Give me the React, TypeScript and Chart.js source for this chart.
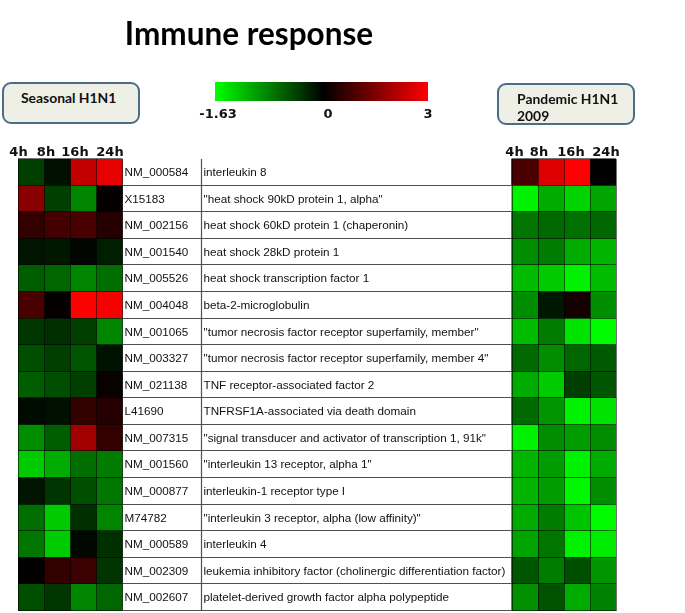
import React, { useEffect, useRef } from "react";
import { Chart, registerables } from "chart.js";

Chart.register(...registerables);

// ---------- DATA ----------
const timePoints = ["4h", "8h", "16h", "24h"];

const geneIds = [
  "NM_000584", "X15183", "NM_002156", "NM_001540", "NM_005526", "NM_004048",
  "NM_001065", "NM_003327", "NM_021138", "L41690", "NM_007315", "NM_001560",
  "NM_000877", "M74782", "NM_000589", "NM_002309", "NM_002607",
];

const geneNames = [
  "interleukin 8",
  "\"heat shock 90kD protein 1, alpha\"",
  "heat shock 60kD protein 1 (chaperonin)",
  "heat shock 28kD protein 1",
  "heat shock transcription factor 1",
  "beta-2-microglobulin",
  "\"tumor necrosis factor receptor superfamily, member\"",
  "\"tumor necrosis factor receptor superfamily, member 4\"",
  "TNF receptor-associated factor 2",
  "TNFRSF1A-associated via death domain",
  "\"signal transducer and activator of transcription 1, 91k\"",
  "\"interleukin 13 receptor, alpha 1\"",
  "interleukin-1 receptor type I",
  "\"interleukin 3 receptor, alpha (low affinity)\"",
  "interleukin 4",
  "leukemia inhibitory factor (cholinergic differentiation factor)",
  "platelet-derived growth factor alpha polypeptide",
];

// Seasonal H1N1 log ratios (per time point, one value per gene)
const seasonal4h = [-0.4, 1.6, 0.6, -0.13, -0.6, 0.85, -0.35, -0.5, -0.6, -0.07, -0.9, -1.3, -0.13, -0.7, -0.75, 0.03, -0.5];
const seasonal8h = [-0.1, -0.4, 0.8, -0.15, -0.65, 0.05, -0.3, -0.4, -0.5, -0.1, -0.6, -1.1, -0.33, -1.3, -1.3, 0.6, -0.35];
const seasonal16h = [2.3, -0.85, 0.85, -0.03, -0.85, 3.0, -0.4, -0.55, -0.4, 0.6, 1.9, -0.7, -0.5, -0.3, -0.05, 0.7, -0.85];
const seasonal24h = [2.7, 0.05, 0.45, -0.2, -0.7, 2.9, -0.85, -0.12, 0.1, 0.45, 0.6, -0.8, -0.75, -0.85, -0.3, -0.33, -0.65];

// Pandemic H1N1 2009 log ratios
const pandemic4h = [0.85, -1.55, -0.75, -0.9, -1.2, -0.9, -1.2, -0.68, -1.1, -0.68, -1.55, -1.15, -1.15, -1.1, -1.05, -0.55, -0.92];
const pandemic8h = [2.6, -1.1, -0.68, -0.8, -1.3, -0.15, -0.8, -0.9, -1.3, -0.95, -0.9, -1.0, -1.0, -0.8, -0.75, -0.8, -0.52];
const pandemic16h = [3.0, -1.35, -0.72, -1.1, -1.55, 0.25, -1.45, -0.65, -0.4, -1.55, -1.0, -1.55, -1.58, -1.25, -1.55, -0.5, -1.1];
const pandemic24h = [0.0, -1.05, -0.65, -1.15, -1.2, -0.9, -1.6, -0.58, -0.55, -1.45, -0.9, -1.1, -0.9, -1.6, -1.5, -0.95, -0.83];

const scaleMin = -1.63;
const scaleMax = 3;
const scaleTicks = ["-1.63", "0", "3"];

// ---------- LAYOUT (in x-axis units: one unit = one heatmap column) ----------
const ID_COL_START = 4;
const DESC_COL_START = 7;
const RIGHT_START = 18.9;
const X_MAX = 22.9;

function colorFor(v: number): string {
  if (v >= 0) {
    const r = Math.round(255 * Math.min(v / scaleMax, 1));
    return `rgb(${r},0,0)`;
  }
  const g = Math.round(255 * Math.min(v / scaleMin, 1));
  return `rgb(0,${g},0)`;
}

const seasonalSeries = [seasonal4h, seasonal8h, seasonal16h, seasonal24h];
const pandemicSeries = [pandemic4h, pandemic8h, pandemic16h, pandemic24h];

const tablePlugin = {
  id: "geneTable",
  afterDatasetsDraw(chart: any) {
    const { ctx, chartArea, scales } = chart;
    const x = scales.x;
    const y = scales.y;
    const n = geneIds.length;
    const band = (chartArea.bottom - chartArea.top) / n;
    const top = chartArea.top;
    const bottom = chartArea.bottom;
    ctx.save();

    // heatmap cell grid lines
    ctx.strokeStyle = "rgba(0,0,0,0.55)";
    ctx.lineWidth = 1;
    const blocks = [0, RIGHT_START];
    blocks.forEach((b) => {
      for (let c = 0; c <= 4; c++) {
        const px = Math.round(x.getPixelForValue(b + c)) + 0.5;
        ctx.beginPath();
        ctx.moveTo(px, top);
        ctx.lineTo(px, bottom);
        ctx.stroke();
      }
      const l = x.getPixelForValue(b);
      const r = x.getPixelForValue(b + 4);
      for (let i = 0; i <= n; i++) {
        const py = Math.round(top + i * band) - 0.5;
        ctx.beginPath();
        ctx.moveTo(l, py);
        ctx.lineTo(r, py);
        ctx.stroke();
      }
    });

    // table row lines
    const tl = x.getPixelForValue(ID_COL_START);
    const tr = x.getPixelForValue(RIGHT_START);
    ctx.strokeStyle = "#505050";
    ctx.lineWidth = 1.2;
    for (let i = 1; i <= n; i++) {
      const py = Math.round(top + i * band) - 0.5;
      ctx.beginPath();
      ctx.moveTo(tl, py);
      ctx.lineTo(tr, py);
      ctx.stroke();
    }
    const dx = Math.round(x.getPixelForValue(DESC_COL_START)) + 0.5;
    ctx.beginPath();
    ctx.moveTo(dx, top);
    ctx.lineTo(dx, bottom);
    ctx.stroke();

    // texts
    ctx.fillStyle = "#111";
    ctx.font = "11.7px 'Liberation Sans', Arial, sans-serif";
    ctx.textBaseline = "middle";
    ctx.textAlign = "left";
    for (let i = 0; i < n; i++) {
      const cy = y.getPixelForValue(i) + 0.5;
      ctx.fillText(geneIds[i], tl + 2, cy);
      ctx.fillText(geneNames[i], dx + 2, cy);
    }
    ctx.restore();
  },
};

const headerFont = "'DejaVu Sans', Verdana, sans-serif";
const calibriLike = "Lato, 'Open Sans', sans-serif";

const leftHeaderCenters = [18.5, 46, 75, 110];
const rightHeaderCenters = [514.5, 539, 571, 606];
const tickCenters = [218, 328, 428];

export default function App() {
  const canvasRef = useRef<HTMLCanvasElement | null>(null);

  useEffect(() => {
    if (!canvasRef.current) return;
    const datasets: any[] = [];
    seasonalSeries.forEach((vals, c) => {
      datasets.push({
        label: "Seasonal " + timePoints[c],
        data: vals.map(() => [c, c + 1]),
        backgroundColor: vals.map(colorFor),
        borderWidth: 0,
      });
    });
    pandemicSeries.forEach((vals, c) => {
      datasets.push({
        label: "Pandemic " + timePoints[c],
        data: vals.map(() => [RIGHT_START + c, RIGHT_START + c + 1]),
        backgroundColor: vals.map(colorFor),
        borderWidth: 0,
      });
    });

    const chart = new Chart(canvasRef.current, {
      type: "bar",
      data: { labels: geneIds, datasets },
      options: {
        indexAxis: "y",
        responsive: false,
        animation: false,
        layout: { padding: { top: 159, bottom: 2, left: 18, right: 69 } },
        datasets: {
          bar: { grouped: false, barPercentage: 1, categoryPercentage: 1 },
        } as any,
        scales: {
          x: { type: "linear", min: 0, max: X_MAX, display: false },
          y: { display: false },
        },
        plugins: { legend: { display: false }, tooltip: { enabled: false } },
      },
      plugins: [tablePlugin],
    });
    return () => chart.destroy();
  }, []);

  const abs = (s: React.CSSProperties): React.CSSProperties => ({ position: "absolute", whiteSpace: "nowrap", ...s });

  return (
    <div style={{ position: "absolute", left: 0, top: 0, width: 685, height: 613, background: "#fff", overflow: "hidden" }}>
      <canvas ref={canvasRef} width={685} height={613} style={{ position: "absolute", left: 0, top: 0, width: 685, height: 613 }} />
      {/* Title */}
      <div style={abs({ left: 249, top: 15, transform: "translateX(-50%)", fontFamily: calibriLike, fontWeight: 700, fontSize: 31.5, lineHeight: "36px", color: "#000" })}>
        Immune response
      </div>
      {/* Seasonal box */}
      <div style={abs({ left: 2, top: 82, width: 138, height: 42, boxSizing: "border-box", border: "2px solid #4d6c8b", borderRadius: 9, background: "#eef0e6" })} />
      <div style={abs({ left: 21, top: 88.5, fontFamily: calibriLike, fontWeight: 700, fontSize: 13.9, lineHeight: "18px", color: "#111" })}>
        Seasonal H1N1
      </div>
      {/* Pandemic box */}
      <div style={abs({ left: 497, top: 83, width: 138, height: 42, boxSizing: "border-box", border: "2px solid #4d6c8b", borderRadius: 9, background: "#eef0e6" })} />
      <div style={abs({ left: 517, top: 89.5, fontFamily: calibriLike, fontWeight: 700, fontSize: 13.9, lineHeight: "17.5px", color: "#111" })}>
        Pandemic H1N1
        <br />
        2009
      </div>
      {/* Colour scale */}
      <div style={abs({ left: 215, top: 82, width: 213, height: 19, background: "linear-gradient(to right, #00ff00 0%, #000000 51%, #ff0000 100%)" })} />
      {scaleTicks.map((t, i) => (
        <div key={t} style={abs({ left: tickCenters[i], top: 112.5, transform: "translate(-50%, -50%)", fontFamily: headerFont, fontWeight: 700, fontSize: 13, lineHeight: "15px", color: "#111" })}>
          {t}
        </div>
      ))}
      {/* Column headers */}
      {timePoints.map((t, i) => (
        <div key={"l" + t} style={abs({ left: leftHeaderCenters[i], top: 150.5, transform: "translate(-50%, -50%)", fontFamily: headerFont, fontWeight: 700, fontSize: 13, lineHeight: "15px", color: "#111" })}>
          {t}
        </div>
      ))}
      {timePoints.map((t, i) => (
        <div key={"r" + t} style={abs({ left: rightHeaderCenters[i], top: 151, transform: "translate(-50%, -50%)", fontFamily: headerFont, fontWeight: 700, fontSize: 13, lineHeight: "15px", color: "#111" })}>
          {t}
        </div>
      ))}
    </div>
  );
}
